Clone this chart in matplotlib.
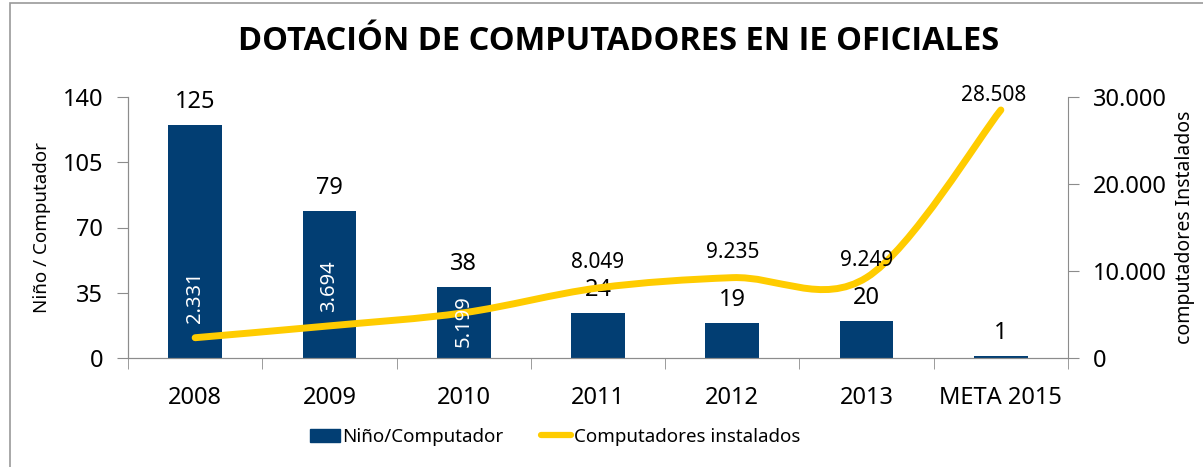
import matplotlib.pyplot as plt
from matplotlib.path import Path
from matplotlib.patches import PathPatch, Rectangle
from matplotlib.lines import Line2D
from matplotlib.ticker import FuncFormatter, FixedLocator

plt.rcParams['font.family'] = ['Noto Sans', 'DejaVu Sans']

categorias = ['2008', '2009', '2010', '2011', '2012', '2013', 'META 2015']
nino_computador = [125, 79, 38, 24, 19, 20, 1]
computadores = [2331, 3694, 5199, 8049, 9235, 9249, 28508]
etiquetas_comp = ['2.331', '3.694', '5.199', '8.049', '9.235', '9.249', '28.508']

azul = '#023E73'
amarillo = '#FFCC00'
gris = '#8C8C8C'

fig = plt.figure(figsize=(12.03, 4.67), dpi=100)
fig.patches.append(Rectangle((10 / 1203, -0.1), 1.2, (467 - 3) / 467 + 0.1,
                             transform=fig.transFigure, fill=False,
                             edgecolor='#999999', linewidth=1.2))

ax = fig.add_axes([128 / 1203, 1 - 358 / 467, 940 / 1203, 261 / 467])
ax2 = ax.twinx()

x = list(range(len(categorias)))
bars = ax.bar(x, nino_computador, width=0.4, color=azul, zorder=2)
ax.set_xlim(-0.5, len(categorias) - 0.5)
ax.set_ylim(0, 140)
ax.set_yticks([0, 35, 70, 105, 140])
ax2.set_ylim(0, 30000)
ax2.set_yticks([0, 10000, 20000, 30000])
ax2.yaxis.set_major_formatter(FuncFormatter(lambda v, p: f'{int(v):,}'.replace(',', '.')))

ax.set_xticks(x)
ax.set_xticklabels(categorias, fontsize=17)
ax.xaxis.set_minor_locator(FixedLocator([i - 0.5 for i in range(len(categorias) + 1)]))
ax.tick_params(axis='x', which='major', length=0, pad=20)
ax.tick_params(axis='x', which='minor', length=8, color=gris)
ax.tick_params(axis='y', length=8, color=gris, labelsize=17, pad=10)
ax2.tick_params(axis='y', length=8, color=gris, labelsize=17, pad=10)

for a in (ax, ax2):
    for s in a.spines.values():
        s.set_color(gris)
    a.spines['top'].set_visible(False)
ax.spines['right'].set_visible(False)

ax.set_ylabel('Niño / Computador', fontsize=13.5, labelpad=8)
ax2.set_ylabel('computadores Instalados', fontsize=14, labelpad=6)

# linea suavizada (estilo Excel, Bezier tipo Catmull-Rom)
n = len(computadores)
verts = [(x[0], computadores[0])]
codes = [Path.MOVETO]
for i in range(n - 1):
    x0, y0 = x[max(i - 1, 0)], computadores[max(i - 1, 0)]
    x1, y1 = x[i], computadores[i]
    x2, y2 = x[i + 1], computadores[i + 1]
    x3, y3 = x[min(i + 2, n - 1)], computadores[min(i + 2, n - 1)]
    c1 = (x1 + (x2 - x0) / 6, y1 + (y2 - y0) / 6)
    c2 = (x2 - (x3 - x1) / 6, y2 - (y3 - y1) / 6)
    verts += [c1, c2, (x2, y2)]
    codes += [Path.CURVE4] * 3
ax2.add_patch(PathPatch(Path(verts, codes), fill=False, edgecolor=amarillo,
                        linewidth=5, capstyle='round', zorder=3))

# etiquetas barras
for xi, v in zip(x, nino_computador):
    ax.annotate(str(v), (xi, v), xytext=(0, 23), textcoords='offset pixels',
                ha='center', va='center', fontsize=17, color='black')

# etiquetas linea
desplaz = [41, 40, -8, 25, 25, 17, 14]
for i, (xi, v, t) in enumerate(zip(x, computadores, etiquetas_comp)):
    if i < 3:
        ax2.annotate(t, (xi, v), xytext=(0, desplaz[i]), textcoords='offset pixels',
                     ha='center', va='center', rotation=90, fontsize=14.5,
                     color='white', zorder=4)
    else:
        dx = -7 if i == n - 1 else 0
        ax2.annotate(t, (xi, v), xytext=(dx, desplaz[i]), textcoords='offset pixels',
                     ha='center', va='center', fontsize=15, color='black', zorder=4)

fig.text(0.5145, 1 - 42 / 467, 'DOTACIÓN DE COMPUTADORES EN IE OFICIALES',
         ha='center', va='center', fontsize=23.5, fontweight='bold',
         family=['Open Sans', 'DejaVu Sans'])

handles = [Rectangle((0, 0), 1, 1, color=azul),
           Line2D([0], [0], color=amarillo, linewidth=4.5, solid_capstyle='round')]
fig.legend(handles, ['Niño/Computador', 'Computadores instalados'],
           loc='center', bbox_to_anchor=(555 / 1203, 1 - 437 / 467), ncol=2,
           frameon=False, fontsize=13.5, handlelength=1.6, handleheight=0.75,
           handletextpad=0.15, columnspacing=2.0)

fig.savefig('out.png', dpi=100)
